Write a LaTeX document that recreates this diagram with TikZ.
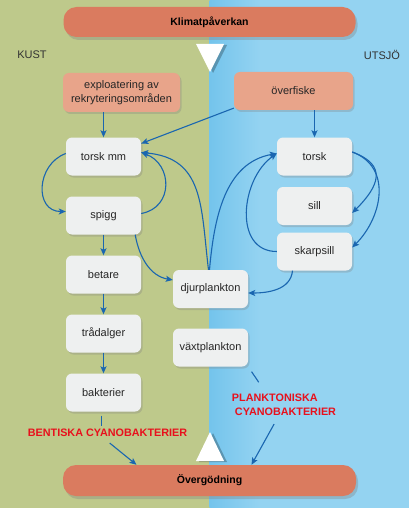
\documentclass[tikz,border=0pt]{standalone}
\usepackage{fontspec}
\setmainfont{Liberation Sans}
\usetikzlibrary{positioning,shadows,arrows.meta}
\definecolor{kustgron}{HTML}{BEC98B}
\definecolor{sjobla}{HTML}{94D3F1}
\definecolor{sjomork}{HTML}{74C4EC}
\definecolor{rutgra}{HTML}{EEF0F0}
\definecolor{orsakrosa}{HTML}{E8A48A}
\definecolor{balkrod}{HTML}{DA7B5F}
\definecolor{pilbla}{HTML}{1A66B0}
\definecolor{etikettrod}{HTML}{E8101C}
\tikzset{
  ruta/.style={fill=rutgra,rounded corners=6pt,minimum width=75pt,minimum height=38pt,
    text=black!85,font=\fontsize{11}{13}\selectfont,
    drop shadow={shadow xshift=1.5pt,shadow yshift=-2pt,opacity=.3}},
  orsak/.style={ruta,fill=orsakrosa,align=center,font=\fontsize{11}{14}\selectfont},
  balk/.style={fill=balkrod,rounded corners=13pt,minimum width=292pt,minimum height=30pt,
    font=\bfseries\fontsize{10.5}{12}\selectfont,
    drop shadow={shadow xshift=2pt,shadow yshift=-3pt,opacity=.35}},
  etikett/.style={text=etikettrod,font=\bfseries\fontsize{10.8}{14}\selectfont,inner sep=1pt},
  sida/.style={text=black!80,font=\fontsize{11}{13}\selectfont},
  linje/.style={draw=pilbla,line width=1.1pt},
  pil/.style={linje,-{Stealth[length=7pt,width=6pt,inset=1.5pt]}}
}
\begin{document}
\begin{tikzpicture}[x=1pt,y=1pt,node distance=59pt]
\useasboundingbox (0,0) rectangle (409,-508);
\fill[kustgron] (0,0) rectangle (209.5,-508);
\fill[sjobla] (209.5,0) rectangle (409,-508);
\shade[left color=sjomork,right color=sjobla] (209.5,0) rectangle (260,-508);
\node[balk](klima) at (209.5,-22){Klimatpåverkan};
\fill[black,opacity=.25] (199,-45)--(227,-45)--(213,-73)--cycle;
\fill[white] (196,-44)--(224,-44)--(210,-72)--cycle;
\node[sida](kust) at (32,-55){KUST};
\node[sida](utsjo) at (382,-55){UTSJÖ};
\node[orsak,minimum width=117pt,minimum height=39pt](ex) at (121.5,-92.5){exploatering av\\rekryteringsområden};
\node[orsak,minimum width=119pt](ov) at (293.5,-91){överfiske};
\node[ruta](tm) at (103.5,-156.5){torsk mm};
\node[ruta,below of = tm](sp){spigg};
\node[ruta,below of = sp](be){betare};
\node[ruta,below of = be](tr){trådalger};
\node[ruta,below of = tr](ba){bakterier};
\node[ruta](dj) at (210.5,-289){djurplankton};
\node[ruta,below of = dj,node distance=58.5pt](vx){växtplankton};
\node[ruta](to) at (314.5,-156.5){torsk};
\node[ruta,below of = to,node distance=49.5pt](si){sill};
\node[ruta,below of = si,node distance=45.5pt](sk){skarpsill};
\node[etikett](bent) at (107.5,-433){BENTISKA CYANOBAKTERIER};
\node[etikett,align=left](pl) at (284,-405){PLANKTONISKA\\\ CYANOBAKTERIER};
\fill[black,opacity=.25] (199,-462)--(227,-462)--(213,-433)--cycle;
\fill[white] (196,-461)--(224,-461)--(210,-432)--cycle;
\node[balk,minimum width=293pt,minimum height=31pt](og) at (209.5,-480.5){Övergödning};
\draw[pil](tm.north |- ex.south)--(tm.north);
\draw[pil](ov.196)--(tm.19);
\draw[pil](ov.south -| to.north)--(to.north);
\draw[pil]([yshift=3pt]tm.west) to[out=200,in=180,looseness=1.4] ([yshift=4pt]sp.west);
\draw[pil]([yshift=2pt]sp.east) to[out=10,in=-20,looseness=1.4] ([yshift=4pt]tm.east);
\draw[pil]([xshift=-2pt]dj.north) to[out=97,in=-5,looseness=1.2] ([yshift=4pt]tm.east);
\draw[pil]([xshift=-1pt]dj.north) to[out=85,in=190] ([yshift=3pt]to.west);
\draw[pil](sk.west) to[out=180,in=215,looseness=1.15] ([yshift=3pt]to.west);
\draw[pil]([yshift=4.5pt]to.east) to[out=-20,in=45,looseness=1.6] ([yshift=-7pt]si.east);
\draw[pil]([yshift=4.5pt]to.east) to[out=-20,in=45,looseness=1.15] ([yshift=4pt]sk.east);
\draw[pil]([xshift=-22pt]sk.south) to[out=-95,in=0] ([yshift=-4pt]dj.east);
\draw[pil]([xshift=-6pt]sp.south east) to[out=-80,in=170] ([yshift=9pt]dj.west);
\draw[pil](sp)--(be);
\draw[pil](be)--(tr);
\draw[pil](tr)--(ba);
\draw[linje,shorten <=4pt,shorten >=2pt]([xshift=-2pt]ba.south)--([xshift=-2pt]ba.south |- bent.north);
\draw[pil,shorten <=8pt]([xshift=-4pt]bent.south)--([xshift=-73pt]og.north);
\draw[linje,shorten <=6pt,shorten >=13pt](vx.south east)--([xshift=-18pt]pl.north);
\draw[pil,shorten <=8pt]([xshift=-6pt]pl.south)--([xshift=42pt]og.north);
\end{tikzpicture}
\end{document}
